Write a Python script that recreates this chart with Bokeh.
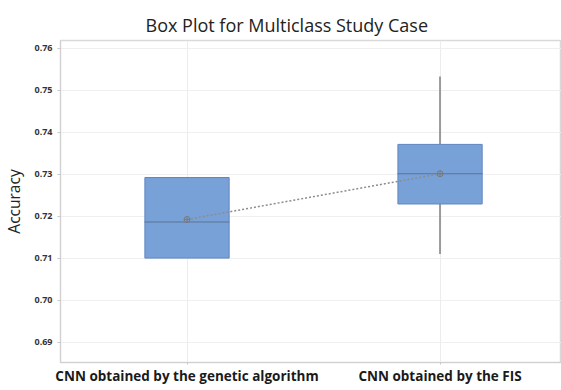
from bokeh.plotting import figure
from bokeh.layouts import column
from bokeh.models import Range1d, FixedTicker, ColumnDataSource, Spacer
from bokeh.embed import file_html
from bokeh.resources import INLINE

categories = ["CNN obtained by the genetic algorithm", "CNN obtained by the FIS"]
q1 = [0.7100, 0.7229]
median = [0.7186, 0.7301]
q3 = [0.7292, 0.7371]
whisker_low = [0.7100, 0.7110]
whisker_high = [0.7292, 0.7533]
means = [0.7192, 0.7301]
y_ticks = [0.69, 0.70, 0.71, 0.72, 0.73, 0.74, 0.75, 0.76]

xs = [i + 0.5 for i in range(len(categories))]

p = figure(frame_width=501, frame_height=322, output_backend="svg", toolbar_location=None,
           x_range=Range1d(0, 1.98), y_range=Range1d(0.68512, 0.76186),
           min_border_left=0, min_border_right=0, min_border_top=0, min_border_bottom=0)

p.title.text = "Box Plot for Multiclass Study Case"
p.title.align = "left"
p.title.offset = 85
p.title.standoff = 8
p.title.text_font = "Open Sans"
p.title.text_font_size = "18px"
p.title.text_font_style = "normal"
p.title.text_color = "#222222"

p.outline_line_color = "#d9d9d9"
p.outline_line_width = 1.5
p.background_fill_color = "white"
p.border_fill_color = "white"

src = ColumnDataSource(dict(x=xs, q1=q1, q3=q3, med=median, lo=whisker_low,
                            hi=whisker_high, mean=means))

# whiskers
p.segment(x0="x", x1="x", y0="hi", y1="q3", source=src, line_color="#9a9a9a", line_width=2)
p.segment(x0="x", x1="x", y0="q1", y1="lo", source=src, line_color="#9a9a9a", line_width=2)
# boxes
p.vbar(x="x", width=0.333, bottom="q1", top="q3", source=src,
       fill_color="#78a1d8", line_color="#5f86bf", line_width=1)
# medians
p.rect(x="x", y="med", width=0.333, height=0.0000001, source=src,
       line_color="#5b7596", line_width=1.2, fill_alpha=0)
# mean connect line
p.line(x="x", y="mean", source=src, line_color="#8c8c8c", line_width=1.5, line_dash="2 2")
p.scatter(x="x", y="mean", source=src, marker="circle_cross", size=6,
          line_color="#7a7a7a", fill_alpha=0, line_width=1)

# axes
p.yaxis.ticker = FixedTicker(ticks=y_ticks)
p.yaxis.formatter.use_scientific = False
p.yaxis.major_label_overrides = {t: f"{t:.2f}" for t in y_ticks}
p.yaxis.axis_label = "Accuracy"
p.yaxis.axis_label_text_font = "Open Sans"
p.yaxis.axis_label_text_font_size = "15.5px"
p.yaxis.axis_label_text_font_style = "normal"
p.yaxis.axis_label_text_color = "#222222"
p.yaxis.axis_label_standoff = 6
p.yaxis.major_label_text_font = "Open Sans"
p.yaxis.major_label_text_font_size = "9px"
p.yaxis.major_label_text_font_style = "bold"
p.yaxis.major_label_text_color = "#333333"
p.yaxis.axis_line_color = "#d0d0d0"
p.yaxis.major_tick_line_color = "#c8c8c8"
p.yaxis.major_tick_out = 3
p.yaxis.major_tick_in = 0
p.yaxis.minor_tick_line_color = None
p.yaxis.major_label_standoff = 5

p.xaxis.ticker = FixedTicker(ticks=xs)
p.xaxis.major_label_overrides = {x: c for x, c in zip(xs, categories)}
p.xaxis.major_label_text_font = "Open Sans"
p.xaxis.major_label_text_font_size = "13.5px"
p.xaxis.major_label_text_font_style = "bold"
p.xaxis.major_label_text_color = "#1a1a1a"
p.xaxis.axis_line_color = "#d0d0d0"
p.xaxis.major_tick_line_color = "#c8c8c8"
p.xaxis.major_tick_out = 2
p.xaxis.major_tick_in = 0
p.xaxis.minor_tick_line_color = None
p.xaxis.major_label_standoff = 2

p.xgrid.grid_line_color = "#ececec"
p.ygrid.grid_line_color = "#efefef"
p.xgrid.ticker = FixedTicker(ticks=xs)
p.ygrid.ticker = FixedTicker(ticks=y_ticks)

layout = column(Spacer(height=6), p, spacing=0)

open("out.html", "w").write(file_html(layout, INLINE))
